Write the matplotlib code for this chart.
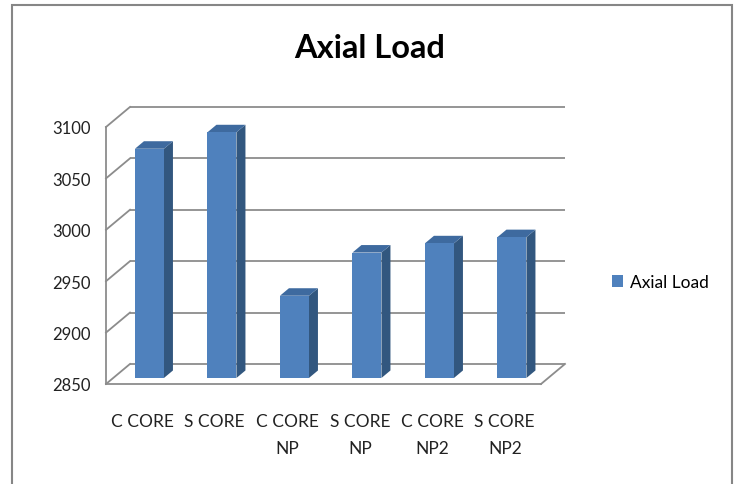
import matplotlib
matplotlib.use("Agg")
import matplotlib.pyplot as plt
from matplotlib.patches import Polygon, Rectangle, Patch

# Axial load per specimen
categories = ["C CORE", "S CORE", "C CORE\nNP", "S CORE\nNP", "C CORE\nNP2", "S CORE\nNP2"]
axial_load = [3073, 3089, 2930, 2972, 2981, 2987]
y_ticks = [2850, 2900, 2950, 3000, 3050, 3100]
series_name = "Axial Load"

FONT = ["Lato", "DejaVu Sans"]
GRID = "#8C8C8C"
FRONT = "#4F81BD"
TOP = "#3E6A9F"
SIDE = "#32577F"

# oblique depth of the plot box, in data units
DX, DY = 0.331, 19.5
# bar slab sits between these depth fractions
D0, D1 = 0.30, 0.675
BAR_W = 0.40
BASE = y_ticks[0]

W, H = 738, 485
fig = plt.figure(figsize=(W / 100, H / 100), dpi=100)

x_lo, x_hi = -0.5, len(categories) - 0.5
y_lo, y_hi = y_ticks[0], y_ticks[-1]
px_left, px_right = 106, 541
px_base, px_top = 385, 128
sx = (px_right - px_left) / (x_hi - x_lo)
sy = (px_base - px_top) / (y_hi - y_lo)
ax_w = (x_hi + DX - x_lo) * sx
ax_h = (y_hi + DY - y_lo) * sy
ax = fig.add_axes([px_left / W, (H - px_base) / H, ax_w / W, ax_h / H])
ax.set_xlim(x_lo, x_hi + DX)
ax.set_ylim(y_lo, y_hi + DY)

# walls: back-wall gridlines plus the diagonals on the side wall
for t in y_ticks:
    ax.plot([x_lo + DX, x_hi + DX], [t + DY, t + DY], color=GRID, lw=1.3,
            solid_capstyle="butt", clip_on=False, zorder=1)
    ax.plot([x_lo, x_lo + DX], [t, t + DY], color=GRID, lw=1.3,
            clip_on=False, zorder=1)
# floor right edge
ax.plot([x_hi, x_hi + DX], [y_lo, y_lo + DY], color=GRID, lw=1.3,
        clip_on=False, zorder=1)

for i, v in enumerate(axial_load):
    xl, xr = i - BAR_W / 2, i + BAR_W / 2
    front = [(xl + D0 * DX, BASE + D0 * DY), (xr + D0 * DX, BASE + D0 * DY),
             (xr + D0 * DX, v + D0 * DY), (xl + D0 * DX, v + D0 * DY)]
    side = [(xr + D0 * DX, BASE + D0 * DY), (xr + D1 * DX, BASE + D1 * DY),
            (xr + D1 * DX, v + D1 * DY), (xr + D0 * DX, v + D0 * DY)]
    top = [(xl + D0 * DX, v + D0 * DY), (xr + D0 * DX, v + D0 * DY),
           (xr + D1 * DX, v + D1 * DY), (xl + D1 * DX, v + D1 * DY)]
    ax.add_patch(Polygon(side, closed=True, fc=SIDE, ec="none", zorder=3))
    ax.add_patch(Polygon(top, closed=True, fc=TOP, ec="none", zorder=3))
    ax.add_patch(Polygon(front, closed=True, fc=FRONT, ec="none", zorder=4))

for s in ("top", "right"):
    ax.spines[s].set_visible(False)
for s in ("left", "bottom"):
    ax.spines[s].set_color(GRID)
    ax.spines[s].set_linewidth(1.3)
ax.spines["left"].set_bounds(y_lo, y_hi)
ax.spines["bottom"].set_bounds(x_lo, x_hi)

ax.set_yticks(y_ticks)
ax.set_yticklabels([str(t) for t in y_ticks], family=FONT, fontsize=12, color="#222222")
ax.set_xticks(range(len(categories)))
ax.set_xticklabels(categories, family=FONT, fontsize=12.5, color="#222222",
                   linespacing=1.8)
ax.tick_params(axis="y", length=0, pad=11)
ax.tick_params(axis="x", length=0, pad=21)
ax.patch.set_visible(False)

fig.text(370 / W, 1 - 48 / H, "Axial Load", ha="center", va="center",
         family=FONT, fontsize=23.5, fontweight="bold", color="black")

fig.legend(handles=[Patch(fc=FRONT, ec="none", label=series_name)],
           loc="center left", bbox_to_anchor=(596 / W, 1 - 283 / H),
           frameon=False, handlelength=0.65, handleheight=0.65,
           handletextpad=0.4, prop={"family": FONT, "size": 12.5})

# outer chart border
fig.add_artist(Rectangle((11.7 / W, -0.02), 720 / W, 1.02 - 5.5 / H,
                         transform=fig.transFigure, fill=False,
                         ec="#868686", lw=1.5))

fig.savefig("out.png", dpi=100)
